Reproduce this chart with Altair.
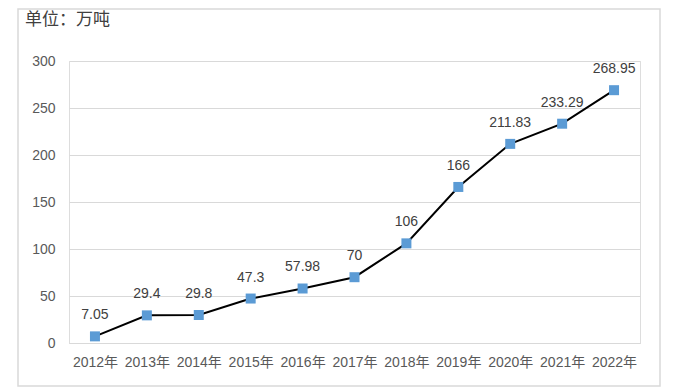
import altair as alt
import pandas as pd

years = ["2012年", "2013年", "2014年", "2015年", "2016年", "2017年",
         "2018年", "2019年", "2020年", "2021年", "2022年"]
values = [7.05, 29.4, 29.8, 47.3, 57.98, 70, 106, 166, 211.83, 233.29, 268.95]
labels = ["7.05", "29.4", "29.8", "47.3", "57.98", "70", "106", "166",
          "211.83", "233.29", "268.95"]
y_ticks = [0, 50, 100, 150, 200, 250, 300]
unit_text = "单位：万吨"

df = pd.DataFrame({"year": years, "value": values, "label": labels})

FONT = "Liberation Sans, Noto Sans CJK SC"

x_enc = alt.X("year:N", sort=years, title=None,
              scale=alt.Scale(paddingInner=0, paddingOuter=0),
              axis=alt.Axis(labelAngle=0, labelFontSize=14, labelColor="#595959",
                            labelFont=FONT, ticks=False, domainColor="#d9d9d9",
                            labelPadding=12, grid=False))
y_enc = alt.Y("value:Q", title=None,
              scale=alt.Scale(domain=[0, 300], nice=False),
              axis=alt.Axis(values=y_ticks, labelFontSize=14, labelColor="#595959",
                            labelFont=FONT, ticks=False, domain=False,
                            gridColor="#d9d9d9", labelPadding=14))

base = alt.Chart(df).encode(x=x_enc, y=y_enc)

line = base.mark_line(color="black", strokeWidth=2)
pts = base.mark_point(shape="square", filled=True, size=100, color="#5B9BD5", opacity=1)
txt = base.mark_text(dy=-21, fontSize=14, color="#404040", font=FONT).encode(text="label:N")

border = alt.Chart(pd.DataFrame({"a": [0]})).mark_rect(
    fill=None, stroke="#d9d9d9", strokeWidth=1.5, clip=False
).encode(x=alt.value(-51), x2=alt.value(591), y=alt.value(-52), y2=alt.value(325))

title = alt.Chart(pd.DataFrame({"t": [unit_text]})).mark_text(
    align="left", baseline="middle", fontSize=17, color="#404040",
    font="Noto Sans CJK SC"
).encode(text="t:N", x=alt.value(-44), y=alt.value(-41))

chart = alt.layer(border, line, pts, txt, title).properties(
    width=571, height=282,
    autosize=alt.AutoSizeParams(type="none"),
    padding={"left": 61, "top": 53, "right": 31, "bottom": 44},
).configure_view(stroke="black", strokeWidth=1.5).configure(background="white")

chart.save("out.html", embed_options={"renderer": "svg", "actions": False})
